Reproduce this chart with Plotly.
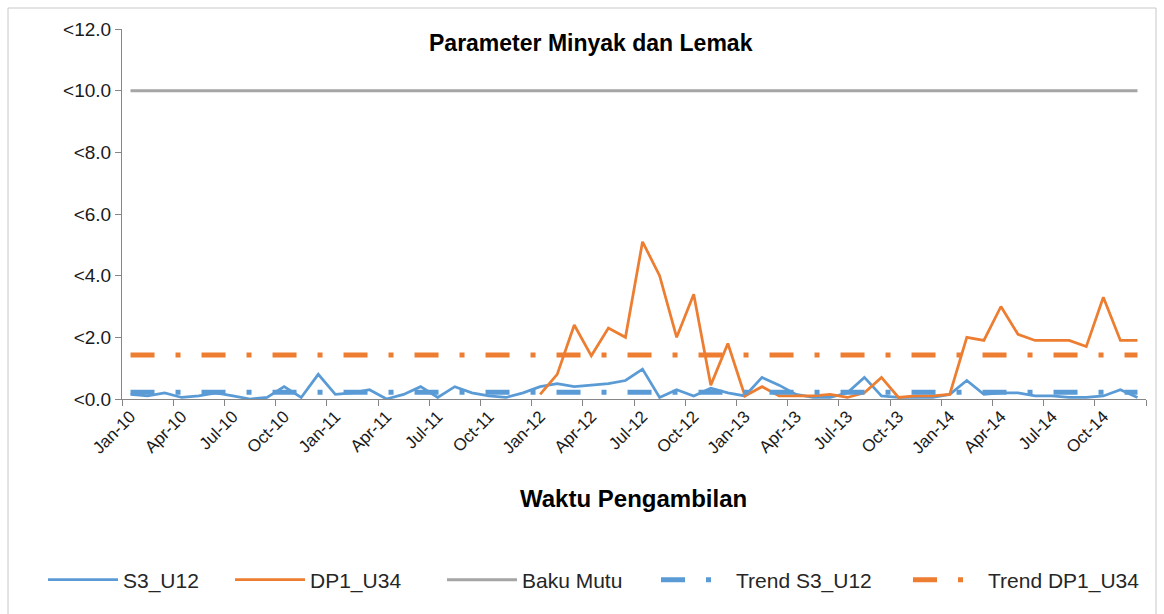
import plotly.graph_objects as go

month_names = ["Jan", "Feb", "Mar", "Apr", "May", "Jun", "Jul", "Aug", "Sep", "Oct", "Nov", "Dec"]
years = ["10", "11", "12", "13", "14"]
months = [f"{m}-{y}" for y in years for m in month_names]

s3_u12 = [0.15, 0.1, 0.2, 0.05, 0.1, 0.2, 0.1, 0.0, 0.05, 0.4, 0.05, 0.8,
          0.15, 0.2, 0.3, 0.0, 0.15, 0.4, 0.05, 0.4, 0.2, 0.1, 0.05, 0.2,
          0.4, 0.5, 0.4, 0.45, 0.5, 0.6, 0.97, 0.05, 0.3, 0.1, 0.35, 0.2,
          0.1, 0.7, 0.45, 0.15, 0.05, 0.05, 0.2, 0.7, 0.1, 0.05, 0.05, 0.05,
          0.15, 0.6, 0.15, 0.2, 0.2, 0.1, 0.1, 0.05, 0.05, 0.1, 0.3, 0.05]

dp1_u34 = [None] * 24 + [
          0.15, 0.8, 2.4, 1.4, 2.3, 2.0, 5.1, 4.0, 2.0, 3.4, 0.45, 1.8,
          0.1, 0.4, 0.1, 0.1, 0.1, 0.15, 0.05, 0.2, 0.7, 0.05, 0.1, 0.1,
          0.15, 2.0, 1.9, 3.0, 2.1, 1.9, 1.9, 1.9, 1.7, 3.3, 1.9, 1.9]

baku_mutu_level = 10.0
trend_s3_level = 0.22
trend_dp1_level = 1.43

baku_mutu = [baku_mutu_level] * len(months)
trend_s3 = [trend_s3_level] * len(months)
trend_dp1 = [trend_dp1_level] * len(months)

y_ticks = [0, 2, 4, 6, 8, 10, 12]
y_tick_labels = ["<0.0", "<2.0", "<4.0", "<6.0", "<8.0", "<10.0", "<12.0"]

xi = list(range(len(months)))
tick_idx = xi[::3]
tick_text = [months[i] for i in tick_idx]
boundaries = [i - 0.5 for i in range(0, len(months) + 1, 3)]

BLUE = "#5B9BD5"
ORANGE = "#ED7D31"
GRAY = "#A5A5A5"
FONT = "Liberation Sans, Arial, sans-serif"
TREND_DASH = "24px,21px,5px,21px"

fig = go.Figure()
fig.add_trace(go.Scatter(x=xi, y=s3_u12, mode="lines", name="S3_U12",
                         line=dict(color=BLUE, width=2.75), legend="legend"))
fig.add_trace(go.Scatter(x=xi, y=dp1_u34, mode="lines", name="DP1_U34",
                         line=dict(color=ORANGE, width=2.75), legend="legend2"))
fig.add_trace(go.Scatter(x=xi, y=baku_mutu, mode="lines", name="Baku Mutu",
                         line=dict(color=GRAY, width=3), legend="legend3"))
fig.add_trace(go.Scatter(x=xi, y=trend_s3, mode="lines", name="Trend S3_U12",
                         line=dict(color=BLUE, width=5, dash=TREND_DASH), legend="legend4"))
fig.add_trace(go.Scatter(x=xi, y=trend_dp1, mode="lines", name="Trend DP1_U34",
                         line=dict(color=ORANGE, width=5, dash=TREND_DASH), legend="legend5"))

L, R, T, B = 122, 18, 29, 215
W, H = 1164, 614
pw = W - L - R
ph = H - T - B

def px_x(x):
    return (x - L) / pw

def px_y(y):
    return (H - B - y) / ph

ITEMW = 70
leg_common = dict(orientation="h", yanchor="middle", xanchor="left",
                  itemwidth=ITEMW,
                  font=dict(family=FONT, size=21, color="#262626"),
                  bgcolor="rgba(0,0,0,0)", borderwidth=0, tracegroupgap=0)
leg_text_starts = [125, 312, 524, 738, 990]
legends = {}
for k, xs in enumerate(leg_text_starts):
    key = "legend" if k == 0 else f"legend{k + 1}"
    legends[key] = dict(leg_common, x=px_x(xs - ITEMW - 12), y=px_y(580))

fig.update_layout(
    width=W, height=H,
    margin=dict(l=L, r=R, t=T, b=B),
    paper_bgcolor="white", plot_bgcolor="white",
    font=dict(family=FONT, color="#262626"),
    showlegend=True,
    **legends,
    xaxis=dict(
        range=[-0.5, len(months) - 0.5],
        tickmode="array", tickvals=tick_idx, ticktext=tick_text,
        tickangle=-45, ticks="", showgrid=False, zeroline=False,
        showline=True, linecolor="#868686", linewidth=1,
        tickfont=dict(family=FONT, size=17, color="#1a1a1a"),
        minor=dict(tickmode="array", tickvals=boundaries, ticks="outside",
                   ticklen=6, tickcolor="#868686", showgrid=False),
    ),
    yaxis=dict(
        range=[0, 12], tickmode="array", tickvals=y_ticks, ticktext=y_tick_labels,
        ticks="outside", ticklen=6, tickcolor="#868686",
        showgrid=False, zeroline=False,
        showline=True, linecolor="#868686", linewidth=1,
        tickfont=dict(family=FONT, size=19, color="#1a1a1a"),
    ),
    annotations=[
        dict(text="<b>Parameter Minyak dan Lemak</b>", xref="paper", yref="paper",
             x=px_x(591), y=px_y(43), xanchor="center", yanchor="middle",
             showarrow=False, font=dict(family=FONT, size=23, color="#000000")),
        dict(text="<b>Waktu Pengambilan</b>", xref="paper", yref="paper",
             x=px_x(633), y=px_y(498), xanchor="center", yanchor="middle",
             showarrow=False, font=dict(family=FONT, size=24, color="#000000")),
    ],
    shapes=[
        dict(type="rect", xref="paper", yref="paper",
             x0=px_x(8), x1=px_x(1156), y0=px_y(640), y1=px_y(8),
             line=dict(color="#C8C8C8", width=1), fillcolor="rgba(0,0,0,0)",
             layer="below"),
    ],
)

fig.write_html("out.html", config={"displayModeBar": False},
               post_script="document.body.style.margin='0';document.body.style.overflow='hidden';")
